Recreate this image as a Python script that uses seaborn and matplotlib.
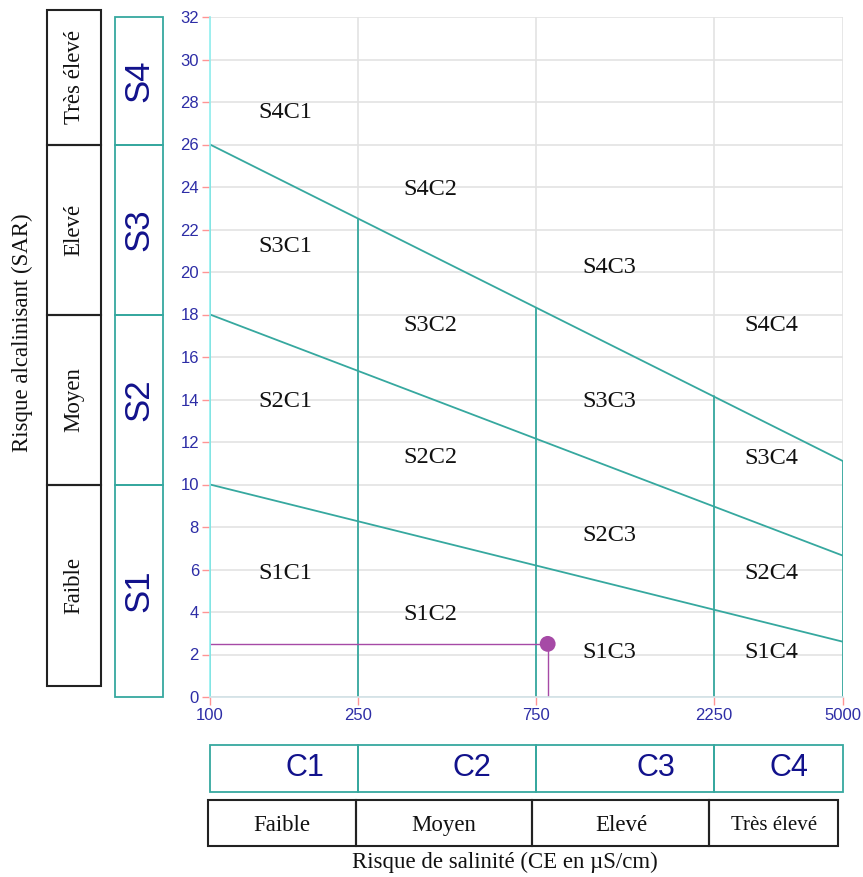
import numpy as np
import pandas as pd
import seaborn as sns
import matplotlib.pyplot as plt
from matplotlib.patches import Rectangle

# Salinity classes (CE in uS/cm, log axis)
ce_bounds = [100, 250, 750, 2250, 5000]
c_classes = ['C1', 'C2', 'C3', 'C4']
c_risk = ['Faible', 'Moyen', 'Elevé', 'Très élevé']
c_label_ce = [180, 505, 1570, 3570]

# Alkalinity classes (SAR)
sar_bounds = [0, 10, 18, 26, 32]
s_classes = ['S1', 'S2', 'S3', 'S4']
s_risk = ['Faible', 'Moyen', 'Elevé', 'Très élevé']

# S1/S2, S2/S3, S3/S4 limits: SAR at 100 and at 5000 uS/cm
sar_at_100 = [10, 18, 26]
sar_at_5000 = [2.6, 6.65, 11.1]

# zone labels
zone_names = ['S4C1', 'S4C2', 'S4C3', 'S4C4',
              'S3C1', 'S3C2', 'S3C3', 'S3C4',
              'S2C1', 'S2C2', 'S2C3', 'S2C4',
              'S1C1', 'S1C2', 'S1C3', 'S1C4']
zone_ce = [159, 390, 1178, 3206,
           159, 390, 1178, 3206,
           159, 390, 1178, 3206,
           159, 390, 1178, 3206]
zone_sar = [27.5, 23.9, 20.2, 17.5,
            21.2, 17.5, 13.9, 11.2,
            13.9, 11.25, 7.6, 5.8,
            5.8, 3.9, 2.1, 2.1]

# sample
sample_ce = [806]
sample_sar = [2.5]

TEAL = '#36a89f'
NAVY = '#12128c'
TICK_BLUE = '#2d2da6'
PURPLE = '#a64aa6'
W, H = 863, 877

sns.set_theme(style='white')
plt.rcParams['font.family'] = ['Liberation Serif', 'DejaVu Serif']
SANS = ['Liberation Sans', 'DejaVu Sans']

fig = plt.figure(figsize=(W / 100, H / 100), dpi=100)


def px_axes(x0, y0, x1, y1):
    return fig.add_axes([x0 / W, 1 - y1 / H, (x1 - x0) / W, (y1 - y0) / H])


# ---- main diagram
ax = px_axes(210, 17, 843, 697)
ax.set_xscale('log')
ax.set_xlim(ce_bounds[0], ce_bounds[-1])
ax.set_ylim(sar_bounds[0], sar_bounds[-1])
ax.set_xticks(ce_bounds)
ax.set_xticklabels([str(v) for v in ce_bounds], family=SANS)
ax.xaxis.set_minor_locator(plt.NullLocator())
ax.set_yticks(np.arange(0, 33, 2))
ax.set_yticklabels([str(v) for v in range(0, 33, 2)], family=SANS)
ax.grid(True, color='#e3e3e3', lw=1.2)
ax.tick_params(axis='both', which='major', direction='out', length=6, width=1,
               color='#ff9494', labelcolor=TICK_BLUE, labelsize=12, pad=2,
               left=True, bottom=True)
for s in ['top', 'right']:
    ax.spines[s].set_visible(False)
ax.spines['left'].set_color('#90f0f0')
ax.spines['bottom'].set_color('#d2e2e6')
ax.spines['left'].set_linewidth(1.2)
ax.spines['bottom'].set_linewidth(1.2)

# diagonal class limits
logce = np.log10([ce_bounds[0], ce_bounds[-1]])
for a, b in zip(sar_at_100, sar_at_5000):
    d = pd.DataFrame({'ce': [ce_bounds[0], ce_bounds[-1]], 'sar': [a, b]})
    sns.lineplot(data=d, x='ce', y='sar', ax=ax, color=TEAL, lw=1.3)

# vertical limits up to the S3/S4 line
for ce in ce_bounds:
    top = np.interp(np.log10(ce), logce, [sar_at_100[-1], sar_at_5000[-1]])
    ax.plot([ce, ce], [0, top], color=TEAL, lw=1.3)

for n, x, y in zip(zone_names, zone_ce, zone_sar):
    ax.text(x, y, n, ha='center', va='center', fontsize=17.5, color='#111111')

# sample point with guide lines
ax.plot([ce_bounds[0], sample_ce[0]], [sample_sar[0]] * 2, color=PURPLE, lw=1)
ax.plot([sample_ce[0]] * 2, [0, sample_sar[0]], color=PURPLE, lw=1)
sns.scatterplot(x=sample_ce, y=sample_sar, ax=ax, color=PURPLE, s=130,
                edgecolor='none', zorder=5, clip_on=False)
ax.set_xlabel('')
ax.set_ylabel('')

# ---- SAR class boxes (teal)
axs = px_axes(115, 17, 163, 697)
axs.set_xlim(0, 1)
axs.set_ylim(sar_bounds[0], sar_bounds[-1])
axs.axis('off')
for i, lab in enumerate(s_classes):
    y0, y1 = sar_bounds[i], sar_bounds[i + 1]
    axs.add_patch(Rectangle((0, y0), 1, y1 - y0, fill=False, ec=TEAL, lw=1.3, clip_on=False))
    axs.text(0.5, (y0 + y1) / 2, lab, rotation=90, ha='center', va='center',
             fontsize=25, color=NAVY, family=SANS)

# ---- SAR risk boxes (black)
axr = px_axes(47, 10, 101, 686)
axr.set_xlim(0, 1)
axr.set_ylim(0.52, 32.33)
axr.axis('off')
edges = [axr.get_ylim()[0]] + sar_bounds[1:-1] + [axr.get_ylim()[1]]
for i, lab in enumerate(s_risk):
    y0, y1 = edges[i], edges[i + 1]
    axr.add_patch(Rectangle((0, y0), 1, y1 - y0, fill=False, ec='#222222', lw=1.5, clip_on=False))
    axr.text(0.5, (y0 + y1) / 2, lab, rotation=90, ha='center', va='center',
             fontsize=16.5, color='#111111')

# ---- CE class boxes (teal)
axc = px_axes(210, 745, 843, 792)
axc.set_xscale('log')
axc.set_xlim(ce_bounds[0], ce_bounds[-1])
axc.set_ylim(0, 1)
axc.axis('off')
for i, lab in enumerate(c_classes):
    x0, x1 = ce_bounds[i], ce_bounds[i + 1]
    axc.add_patch(Rectangle((x0, 0), x1 - x0, 1, fill=False, ec=TEAL, lw=1.3, clip_on=False))
    axc.text(c_label_ce[i], 0.5, lab, ha='center', va='center',
             fontsize=22, color=NAVY, family=SANS)

# ---- CE risk boxes (black)
axb = px_axes(208, 800, 838, 846)
axb.set_xscale('log')
axb.set_xlim(ce_bounds[0], ce_bounds[-1])
axb.set_ylim(0, 1)
axb.axis('off')
for i, lab in enumerate(c_risk):
    x0, x1 = ce_bounds[i], ce_bounds[i + 1]
    axb.add_patch(Rectangle((x0, 0), x1 - x0, 1, fill=False, ec='#222222', lw=1.5, clip_on=False))
    axb.text(np.sqrt(x0 * x1), 0.45, lab, ha='center', va='center',
             fontsize=16.5 if i < 3 else 15, color='#111111')

fig.text(22 / W, 1 - 333 / H, 'Risque alcalinisant (SAR)', rotation=90,
         ha='center', va='center', fontsize=16.5, color='#111111')
fig.text(505 / W, 1 - 862 / H, 'Risque de salinité (CE en µS/cm)',
         ha='center', va='center', fontsize=16.5, color='#111111')

fig.savefig('out.png', dpi=100)
